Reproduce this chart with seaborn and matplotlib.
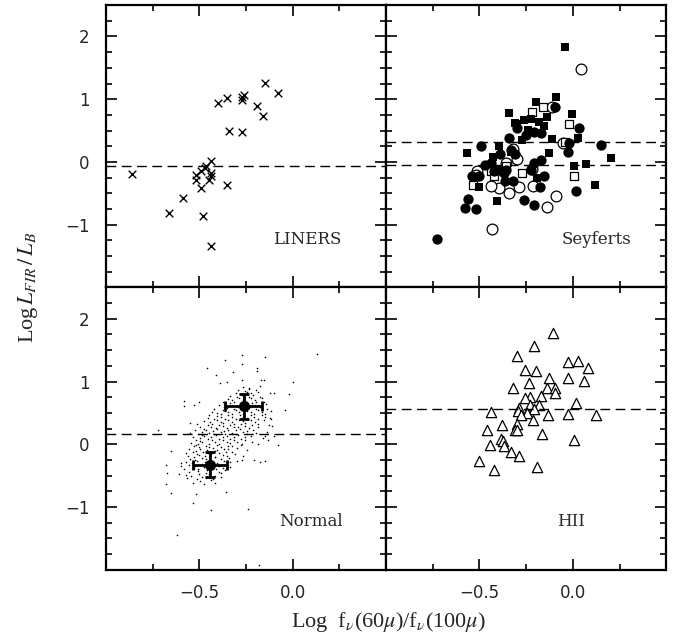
import numpy as np
import pandas as pd
import seaborn as sns
import matplotlib.pyplot as plt
from matplotlib.ticker import MultipleLocator, FixedLocator, FixedFormatter

# LINERS
liners_x = [-0.86, -0.66, -0.59, -0.48, -0.435, -0.52, -0.52, -0.49, -0.49, -0.465,
            -0.44, -0.44, -0.45, -0.44, -0.47, -0.35, -0.40, -0.35, -0.34, -0.27,
            -0.27, -0.26, -0.27, -0.19, -0.16, -0.15, -0.08]
liners_y = [-0.19, -0.82, -0.57, -0.86, -1.34, -0.21, -0.29, -0.41, -0.14, -0.06,
            0.02, -0.18, -0.29, -0.23, -0.10, -0.36, 0.94, 1.02, 0.49, 0.47,
            0.99, 1.07, 1.04, 0.89, 0.74, 1.26, 1.10]
liners_line = [-0.06]

# Seyferts, four sub-samples
sey_fc_x = [-0.725, -0.58, -0.56, -0.52, -0.49, -0.54, -0.505, -0.47, -0.44, -0.39,
            -0.40, -0.37, -0.365, -0.32, -0.34, -0.33, -0.31, -0.30, -0.26, -0.21,
            -0.175, -0.155, -0.225, -0.21, -0.17, -0.25, -0.21, -0.17, -0.093, -0.023,
            -0.028, 0.035, 0.016, 0.15, -0.356, -0.42]
sey_fc_y = [-1.23, -0.74, -0.59, -0.75, 0.26, -0.22, -0.23, -0.05, -0.02, 0.13,
            -0.13, -0.18, -0.31, -0.31, 0.38, 0.19, 0.12, 0.54, -0.61, -0.69,
            -0.40, -0.22, -0.13, -0.02, 0.03, 0.43, 0.48, 0.46, 0.88, 0.30,
            0.16, 0.54, -0.46, 0.27, -0.13, -0.15]
sey_oc_x = [0.042, -0.11, -0.435, -0.137, -0.09, -0.216, -0.286, -0.342, -0.396, -0.44,
            -0.514, -0.356, -0.30, -0.32, -0.22, -0.053, -0.52]
sey_oc_y = [1.48, 0.87, -1.07, -0.72, -0.54, -0.39, -0.40, -0.50, -0.42, -0.38,
            -0.14, -0.02, 0.04, 0.20, -0.12, 0.30, -0.21]
sey_fs_x = [-0.044, -0.088, -0.198, -0.34, -0.137, -0.002, -0.31, -0.27, -0.114, 0.026,
            -0.567, -0.396, -0.426, -0.33, -0.128, 0.205, 0.068, 0.007, -0.505, -0.405,
            0.118, -0.19, -0.30, -0.26, -0.225, -0.154, -0.18, -0.24]
sey_fs_y = [1.83, 1.04, 0.96, 0.78, 0.72, 0.76, 0.62, 0.35, 0.36, 0.38,
            0.14, 0.26, 0.085, 0.16, 0.14, 0.07, -0.04, -0.07, -0.40, -0.62,
            -0.37, -0.25, 0.61, 0.67, 0.68, 0.57, 0.64, 0.51]
sey_os_x = [-0.16, -0.22, -0.023, -0.27, 0.007, -0.535, -0.356, -0.44, -0.42, -0.04]
sey_os_y = [0.87, 0.79, 0.60, -0.18, -0.22, -0.37, -0.06, -0.14, -0.23, 0.32]
sey_lines = [0.31, -0.05]

# Normal galaxies
normal_pts = [
    (0.13, 1.44), (0.0, 0.99), (-0.02, 0.80), (-0.04, 0.55), (-0.15, 1.39), (-0.27, 1.42),
    (-0.365, 1.35), (-0.46, 1.22), (-0.41, 1.10), (-0.32, 1.15), (-0.27, 1.28), (-0.19, 1.22),
    (-0.19, 1.16), (-0.17, 1.02), (-0.155, 1.02), (-0.27, 1.02), (-0.35, 0.99), (-0.39, 0.98),
    (-0.12, 0.82), (-0.10, 0.82), (-0.58, 0.69), (-0.58, 0.61), (-0.53, 0.63), (-0.50, 0.67),
    (-0.72, 0.22), (-0.65, -0.11), (-0.68, -0.33), (-0.675, -0.46), (-0.68, -0.63), (-0.65, -0.78),
    (-0.62, -1.45), (-0.535, -0.94), (-0.52, -0.80), (-0.44, -1.04), (-0.355, -0.76), (-0.24, -1.03),
    (-0.18, -1.93), (-0.10, 0.13), (-0.08, -0.01), (-0.11, 0.29), (-0.12, 0.42), (-0.15, -0.27),
    (-0.175, -0.29), (-0.21, -0.25), (-0.27, -0.25), (-0.15, 0.13), (-0.13, 0.06), (-0.60, -0.30),
    (-0.60, -0.35), (-0.61, -0.48), (-0.57, -0.14), (-0.55, 0.34), (-0.55, 0.18), (-0.52, -0.01),
    (-0.532, -0.62), (-0.497, -0.58), (-0.474, -0.64), (-0.436, -0.57), (-0.418, -0.61),
    (-0.566, -0.54), (-0.512, -0.56), (-0.463, -0.53), (-0.427, -0.555), (-0.384, -0.52),
    (-0.574, -0.49), (-0.545, -0.51), (-0.503, -0.47), (-0.487, -0.525), (-0.448, -0.48),
    (-0.416, -0.50), (-0.386, -0.46), (-0.553, -0.44), (-0.508, -0.42), (-0.466, -0.46),
    (-0.441, -0.43), (-0.396, -0.45), (-0.364, -0.41), (-0.584, -0.39), (-0.526, -0.38),
    (-0.505, -0.40), (-0.476, -0.36), (-0.458, -0.41), (-0.437, -0.37), (-0.412, -0.40),
    (-0.371, -0.38), (-0.338, -0.36), (-0.557, -0.33), (-0.523, -0.35), (-0.486, -0.32),
    (-0.453, -0.34), (-0.421, -0.31), (-0.393, -0.35), (-0.352, -0.32), (-0.571, -0.28),
    (-0.538, -0.30), (-0.514, -0.27), (-0.468, -0.29), (-0.437, -0.26), (-0.403, -0.30),
    (-0.366, -0.27), (-0.334, -0.29), (-0.298, -0.26), (-0.548, -0.23), (-0.524, -0.25),
    (-0.487, -0.22), (-0.462, -0.24), (-0.418, -0.21), (-0.384, -0.24), (-0.343, -0.22),
    (-0.562, -0.18), (-0.528, -0.20), (-0.503, -0.17), (-0.472, -0.19), (-0.437, -0.16),
    (-0.414, -0.20), (-0.376, -0.17), (-0.353, -0.19), (-0.307, -0.16), (-0.264, -0.18),
    (-0.536, -0.13), (-0.512, -0.15), (-0.478, -0.12), (-0.453, -0.14), (-0.416, -0.11),
    (-0.394, -0.14), (-0.357, -0.12), (-0.326, -0.13), (-0.553, -0.08), (-0.517, -0.10),
    (-0.494, -0.07), (-0.458, -0.09), (-0.427, -0.06), (-0.404, -0.09), (-0.366, -0.07),
    (-0.344, -0.08), (-0.296, -0.06), (-0.243, -0.09), (-0.527, -0.03), (-0.504, -0.05),
    (-0.466, -0.02), (-0.447, -0.04), (-0.406, -0.01), (-0.384, -0.04), (-0.347, -0.02),
    (-0.323, -0.03), (-0.276, -0.01), (-0.543, 0.02), (-0.506, 0.00), (-0.484, 0.03),
    (-0.446, 0.01), (-0.417, 0.04), (-0.393, 0.01), (-0.354, 0.03), (-0.336, 0.02),
    (-0.297, 0.04), (-0.273, 0.01), (-0.216, 0.03), (-0.184, 0.00), (-0.516, 0.07),
    (-0.494, 0.05), (-0.456, 0.08), (-0.433, 0.06), (-0.396, 0.09), (-0.374, 0.06),
    (-0.336, 0.08), (-0.313, 0.07), (-0.276, 0.09), (-0.254, 0.06), (-0.534, 0.12),
    (-0.497, 0.10), (-0.474, 0.13), (-0.436, 0.11), (-0.413, 0.14), (-0.376, 0.11),
    (-0.354, 0.13), (-0.316, 0.12), (-0.293, 0.14), (-0.256, 0.11), (-0.224, 0.13),
    (-0.157, 0.10), (-0.507, 0.17), (-0.486, 0.15), (-0.447, 0.18), (-0.424, 0.16),
    (-0.386, 0.19), (-0.363, 0.16), (-0.327, 0.18), (-0.304, 0.17), (-0.266, 0.19),
    (-0.243, 0.16), (-0.196, 0.18), (-0.523, 0.22), (-0.487, 0.20), (-0.464, 0.23),
    (-0.426, 0.21), (-0.403, 0.24), (-0.366, 0.21), (-0.344, 0.23), (-0.306, 0.22),
    (-0.283, 0.24), (-0.246, 0.21), (-0.214, 0.23), (-0.137, 0.20), (-0.496, 0.27),
    (-0.474, 0.25), (-0.436, 0.28), (-0.413, 0.26), (-0.376, 0.29), (-0.354, 0.26),
    (-0.316, 0.28), (-0.293, 0.27), (-0.256, 0.29), (-0.234, 0.26), (-0.186, 0.28),
    (-0.514, 0.32), (-0.456, 0.30), (-0.434, 0.33), (-0.396, 0.31), (-0.374, 0.34),
    (-0.336, 0.31), (-0.314, 0.33), (-0.276, 0.32), (-0.254, 0.34), (-0.216, 0.31),
    (-0.184, 0.33), (-0.126, 0.30), (-0.476, 0.37), (-0.444, 0.35), (-0.406, 0.38),
    (-0.384, 0.36), (-0.346, 0.39), (-0.324, 0.36), (-0.286, 0.38), (-0.264, 0.37),
    (-0.226, 0.39), (-0.204, 0.36), (-0.156, 0.38), (-0.456, 0.42), (-0.424, 0.40),
    (-0.386, 0.43), (-0.364, 0.41), (-0.326, 0.44), (-0.304, 0.41), (-0.266, 0.43),
    (-0.244, 0.42), (-0.206, 0.44), (-0.184, 0.41), (-0.146, 0.43), (-0.114, 0.40),
    (-0.446, 0.47), (-0.404, 0.45), (-0.386, 0.48), (-0.344, 0.46), (-0.326, 0.49),
    (-0.284, 0.46), (-0.266, 0.48), (-0.224, 0.47), (-0.206, 0.49), (-0.164, 0.46),
    (-0.146, 0.48), (-0.434, 0.52), (-0.406, 0.50), (-0.364, 0.53), (-0.346, 0.51),
    (-0.304, 0.54), (-0.286, 0.51), (-0.244, 0.53), (-0.226, 0.52), (-0.184, 0.54),
    (-0.166, 0.51), (-0.116, 0.53), (-0.424, 0.57), (-0.376, 0.55), (-0.354, 0.58),
    (-0.316, 0.56), (-0.294, 0.59), (-0.256, 0.56), (-0.236, 0.58), (-0.196, 0.57),
    (-0.174, 0.59), (-0.136, 0.56), (-0.396, 0.62), (-0.366, 0.60), (-0.324, 0.63),
    (-0.306, 0.61), (-0.264, 0.64), (-0.246, 0.61), (-0.204, 0.63), (-0.186, 0.62),
    (-0.144, 0.64), (-0.374, 0.67), (-0.336, 0.65), (-0.314, 0.68), (-0.276, 0.66),
    (-0.254, 0.69), (-0.216, 0.66), (-0.194, 0.68), (-0.156, 0.67), (-0.346, 0.72),
    (-0.324, 0.70), (-0.286, 0.73), (-0.264, 0.71), (-0.226, 0.74), (-0.204, 0.71),
    (-0.166, 0.73), (-0.334, 0.77), (-0.296, 0.75), (-0.274, 0.78), (-0.236, 0.76),
    (-0.214, 0.79), (-0.176, 0.76), (-0.306, 0.82), (-0.284, 0.80), (-0.246, 0.83),
    (-0.224, 0.81), (-0.186, 0.84), (-0.294, 0.87), (-0.256, 0.85), (-0.234, 0.88),
    (-0.196, 0.86), (-0.266, 0.92), (-0.234, 0.90), (-0.176, 0.93),
]
normal_mean_x = [-0.263, -0.442]
normal_mean_y = [0.605, -0.326]
normal_err_x = [0.10, 0.09]
normal_err_y = [0.20, 0.20]
normal_line = [0.165]

# HII
hii_x = [-0.105, -0.21, -0.30, -0.256, -0.20, -0.026, 0.028, 0.08, -0.026, 0.06,
         -0.126, -0.233, -0.32, -0.137, -0.093, -0.096, -0.17, -0.228, -0.254, -0.18,
         -0.228, 0.016, -0.286, -0.295, -0.21, -0.246, -0.275, -0.133, -0.025, 0.126,
         -0.44, -0.216, -0.38, -0.30, -0.46, -0.31, -0.30, -0.167, -0.386, -0.375,
         -0.446, -0.37, 0.004, -0.33, -0.286, -0.50, -0.42, -0.193]
hii_y = [1.77, 1.56, 1.41, 1.18, 1.16, 1.31, 1.33, 1.21, 1.05, 1.01,
         1.05, 0.98, 0.89, 0.90, 0.90, 0.81, 0.77, 0.76, 0.74, 0.62,
         0.62, 0.66, 0.58, 0.53, 0.57, 0.50, 0.46, 0.46, 0.48, 0.46,
         0.52, 0.39, 0.31, 0.33, 0.22, 0.22, 0.23, 0.16, 0.08, 0.05,
         -0.01, -0.02, 0.06, -0.13, -0.18, -0.26, -0.41, -0.37]
hii_line = [0.56]

sns.set_style('ticks')
plt.rcParams['font.family'] = ['Liberation Serif', 'DejaVu Serif']
plt.rcParams['mathtext.fontset'] = 'stix'

fig, axes = plt.subplots(2, 2, figsize=(6.75, 6.38), dpi=100, sharex=True, sharey=True)
fig.subplots_adjust(left=0.157, right=0.987, top=0.992, bottom=0.107, wspace=0, hspace=0)
ax_lin, ax_sey = axes[0]
ax_nor, ax_hii = axes[1]

def dashed(ax, levels):
    for lv in levels:
        ax.axhline(lv, color='k', lw=1.0, dashes=(7, 4), zorder=1)

# LINERS
sns.scatterplot(x=liners_x, y=liners_y, marker='x', color='k', s=30, linewidth=1.0, ax=ax_lin)
dashed(ax_lin, liners_line)

# Seyferts
sns.scatterplot(x=sey_oc_x, y=sey_oc_y, marker='o', s=60, facecolor='white',
                edgecolor='k', linewidth=0.9, ax=ax_sey, zorder=2)
sns.scatterplot(x=sey_os_x, y=sey_os_y, marker='s', s=30, facecolor='white',
                edgecolor='k', linewidth=0.9, ax=ax_sey, zorder=2)
sns.scatterplot(x=sey_fc_x, y=sey_fc_y, marker='o', s=55, color='k',
                edgecolor='k', linewidth=0, ax=ax_sey, zorder=3)
sns.scatterplot(x=sey_fs_x, y=sey_fs_y, marker='s', s=28, color='k',
                edgecolor='k', linewidth=0, ax=ax_sey, zorder=3)
dashed(ax_sey, sey_lines)

# Normal
normal = pd.DataFrame(normal_pts, columns=['x', 'y'])
sns.scatterplot(data=normal, x='x', y='y', s=1.3, color='k', linewidth=0, ax=ax_nor)
ax_nor.errorbar(normal_mean_x, normal_mean_y, xerr=normal_err_x, yerr=normal_err_y,
                fmt='o', color='k', ms=7, elinewidth=2, capsize=3.5, capthick=2, zorder=4)
dashed(ax_nor, normal_line)

# HII
sns.scatterplot(x=hii_x, y=hii_y, marker='^', s=55, facecolor='white',
                edgecolor='k', linewidth=0.9, ax=ax_hii)
dashed(ax_hii, hii_line)

labels = {ax_lin: ('LINERS', 0.72), ax_sey: ('Seyferts', 0.75),
          ax_nor: ('Normal', 0.73), ax_hii: ('HII', 0.66)}

for ax in axes.flat:
    ax.set_xlim(-1.0, 0.5)
    ax.set_ylim(-2.0, 2.5)
    ax.set_xlabel('')
    ax.set_ylabel('')
    ax.xaxis.set_major_locator(FixedLocator([-1.0, -0.5, 0.0, 0.5]))
    ax.xaxis.set_major_formatter(FixedFormatter(['', '\u22120.5', '0.0', '']))
    ax.xaxis.set_minor_locator(MultipleLocator(0.25))
    ax.yaxis.set_major_locator(FixedLocator([-2, -1, 0, 1, 2]))
    ax.yaxis.set_major_formatter(FixedFormatter(['', '\u22121', '0', '1', '2']))
    ax.yaxis.set_minor_locator(MultipleLocator(0.25))
    ax.tick_params(which='both', direction='in', top=True, right=True, width=1.2, color='k')
    ax.tick_params(which='major', length=8)
    ax.tick_params(which='minor', length=4.5)
    for lab in ax.get_xticklabels() + ax.get_yticklabels():
        lab.set_family('DejaVu Sans')
        lab.set_fontsize(12)
    ax.tick_params(axis='x', pad=10)
    ax.tick_params(axis='y', pad=12)
    for sp in ax.spines.values():
        sp.set_linewidth(1.6)
        sp.set_color('k')
    txt, xpos = labels[ax]
    ax.text(xpos, 0.17, txt, transform=ax.transAxes, ha='center', va='center',
            fontsize=12, family='DejaVu Serif')

fig.text(0.042, 0.55, r'Log$\,L_{FIR}\,/\,L_{B}$', rotation=90, ha='center', va='center', fontsize=16)
fig.text(0.575, 0.025, r'Log  f$_\nu$(60$\mu$)/f$_\nu$(100$\mu$)', ha='center', va='center', fontsize=16)

fig.savefig('out.png', dpi=100)
